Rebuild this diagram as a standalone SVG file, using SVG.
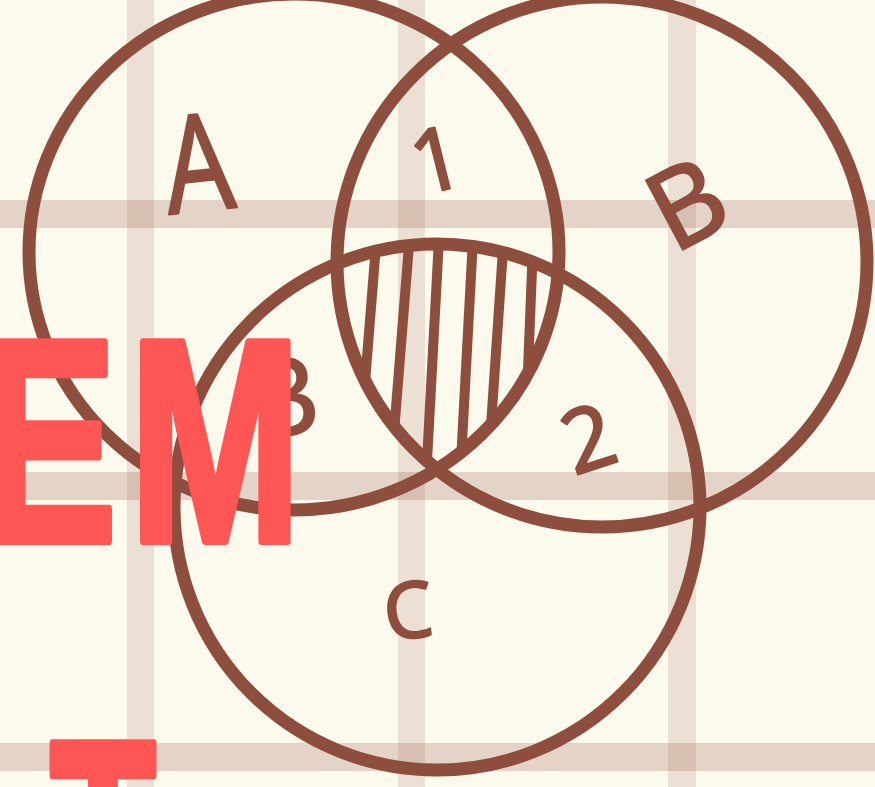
<svg xmlns="http://www.w3.org/2000/svg" width="875" height="787" viewBox="0 0 875 787">
<style>
.gv{fill:#8b4a3a;fill-opacity:0.14}
.gh{fill:#8b4a3a;fill-opacity:0.21}
.ring{fill:none;stroke:#8e4e3e;stroke-width:13}
.hatch{stroke:#8e4e3e;stroke-width:10;stroke-linecap:round}
.lbl{font-family:"Noto Sans","DejaVu Sans",sans-serif;fill:#8e4e3e;stroke:#8e4e3e;stroke-width:2;stroke-linejoin:round;text-anchor:middle}
.big{font-family:"Liberation Sans",Arial,sans-serif;font-weight:bold;font-size:289px;fill:#fe5555;stroke:#fe5555;stroke-width:8;stroke-linejoin:round}
</style>
<defs>
<clipPath id="cA"><ellipse cx="294" cy="252" rx="265" ry="258"/></clipPath>
<clipPath id="cB"><circle cx="602" cy="262" r="265"/></clipPath>
<clipPath id="cC"><circle cx="437" cy="507" r="263"/></clipPath>
</defs>
<rect width="875" height="787" fill="#fcf9ed"/>
<g id="grid">
<rect class="gv" x="127" y="0" width="27" height="787"/>
<rect class="gv" x="398" y="0" width="27" height="787"/>
<rect class="gv" x="668" y="0" width="28" height="787"/>
<rect class="gh" x="0" y="200" width="875" height="28"/>
<rect class="gh" x="0" y="472" width="875" height="28"/>
<rect class="gh" x="0" y="743" width="875" height="28"/>
</g>
<g id="hatching" clip-path="url(#cA)">
<g clip-path="url(#cB)">
<g clip-path="url(#cC)">
<line class="hatch" x1="378" y1="220" x2="362" y2="420"/>
<line class="hatch" x1="411" y1="220" x2="391" y2="470"/>
<line class="hatch" x1="440" y1="220" x2="426" y2="480"/>
<line class="hatch" x1="474" y1="220" x2="460" y2="480"/>
<line class="hatch" x1="505" y1="220" x2="488" y2="470"/>
<line class="hatch" x1="534" y1="220" x2="526" y2="420"/>
</g>
</g>
</g>
<g id="circleA"><ellipse class="ring" cx="294" cy="252" rx="265" ry="258"/></g>
<g id="circleB"><circle class="ring" cx="602" cy="262" r="265"/></g>
<g id="circleC"><circle class="ring" cx="437" cy="507" r="263"/></g>
<g id="labels">
<text class="lbl" font-size="135" transform="translate(203,211) rotate(-6) scale(0.8,1)">A</text>
<text class="lbl" font-size="88" transform="translate(444,190) rotate(-14)">1</text>
<text class="lbl" font-size="110" transform="translate(705,238) rotate(-28)">B</text>
<text class="lbl" font-size="105" transform="translate(293,434) rotate(-8)">3</text>
<text class="lbl" font-size="88" transform="translate(598,468) rotate(-18)">2</text>
<text class="lbl" font-size="78" transform="translate(411,638) rotate(-6)">C</text>
</g>
<g id="title">
<text class="big" transform="translate(-21,541) scale(0.717,1)">E</text>
<text class="big" transform="translate(129,541) scale(0.717,1)">M</text>
<text class="big" transform="translate(50,942) scale(0.6,1)">T</text>
</g>
</svg>
